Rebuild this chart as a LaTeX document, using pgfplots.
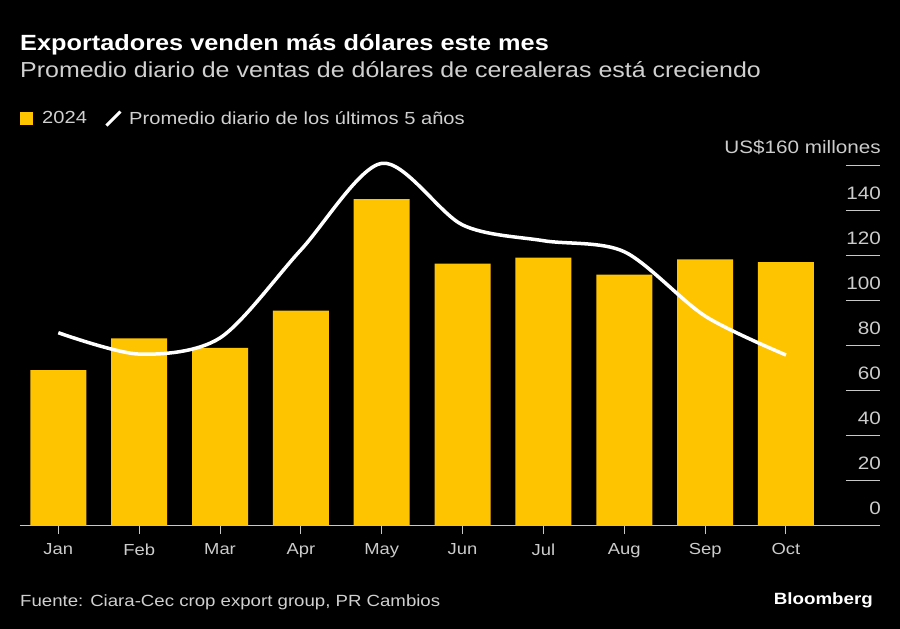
\documentclass[border=0pt]{standalone}
\usepackage{fontspec}
\setmainfont{Liberation Sans}[FakeStretch=1.15]
\usepackage{pgfplots}
\pgfplotsset{compat=1.18}
\definecolor{bbyellow}{HTML}{FFC400}
\definecolor{subgray}{HTML}{D0D0D0}
\definecolor{tickgray}{HTML}{CCCCCC}
\definecolor{axgray}{HTML}{C8C8C8}
\begin{document}
\begin{tikzpicture}[x=1pt,y=1pt]
\useasboundingbox (-20,-103) rectangle (880,526);
\fill[black] (-20,-103) rectangle (880,526);
\node[anchor=base west,inner sep=0pt,text=white,font=\fontsize{22}{26}\selectfont\bfseries] at (0,475) {Exportadores venden más dólares este mes};
\node[anchor=base west,inner sep=0pt,text=subgray,font=\fontsize{21.7}{24}\selectfont] at (0,448) {Promedio diario de ventas de dólares de cerealeras está creciendo};
\node[anchor=base west,inner sep=0pt,text=subgray,font=\fontsize{16.2}{20}\selectfont] at (0,-81) {Fuente: Ciara-Cec crop export group, PR Cambios};
\node[anchor=base east,inner sep=0pt,text=white,font=\fontsize{16.3}{20}\selectfont\bfseries] at (853,-79) {Bloomberg};
\begin{axis}[
  at={(0,0)}, anchor=south west,
  scale only axis, width=860pt, height=360pt,
  xmin=-0.474, xmax=10.163, ymin=0, ymax=160,
  clip=false,
  axis x line*=bottom, axis y line*=right,
  x axis line style={draw=axgray, line width=1pt},
  y axis line style={draw=none},
  xtick={0,...,9},
  xticklabels={Jan,Feb,Mar,Apr,May,Jun,Jul,Aug,Sep,Oct},
  tick align=outside, major tick length=8pt,
  xtick style={draw=axgray, line width=1pt},
  xticklabel style={text=tickgray, font=\fontsize{16}{20}\selectfont, yshift=-6pt},
  ytick={0,20,...,160},
  yticklabels={0,20,40,60,80,100,120,140,{US\$160 millones}},
  ytick style={draw=none},
  yticklabel style={anchor=south east, text=tickgray, font=\fontsize{18}{20}\selectfont, inner xsep=0pt, xshift=-7pt, yshift=8pt},
  /pgf/number format/assume math mode=true,
  legend columns=2,
  legend style={at={(0,1)}, anchor=south west, yshift=36pt, xshift=-3pt, draw=none, fill=none, text=subgray, font=\fontsize{17.5}{20}\selectfont, /tikz/every even column/.append style={column sep=16pt}},
  legend cell align=left,
]
\pgfplotsinvokeforeach{20,40,60,80,100,120,140,160}{
  \draw[axgray, line width=1pt] (axis cs:9.742,#1) -- (axis cs:10.163,#1);
}
\addplot[ybar, bar width=56pt, fill=bbyellow, draw=none,
  legend image code/.code={\fill[bbyellow] (0pt,-6.5pt) rectangle (13pt,6.5pt); \path (20pt,0pt);}]
  coordinates {(0,69.3)(1,83.4)(2,79.2)(3,95.7)(4,145.3)(5,116.6)(6,119.3)(7,111.7)(8,118.5)(9,117.3)};
\addlegendentry{2024}
\addplot[white, line width=3.5pt, smooth, tension=0.5, no markers,
  legend image code/.code={\draw[white, line width=3pt] (1pt,-7pt) -- (15pt,7pt); \path (20pt,0pt);}]
  coordinates {(0,85.9)(1,76.4)(2,83.6)(3,122.7)(4,161.2)(5,133.8)(6,126.8)(7,121.9)(8,93.3)(9,76)};
\addlegendentry{Promedio diario de los últimos 5 años}
\end{axis}
\end{tikzpicture}
\end{document}
